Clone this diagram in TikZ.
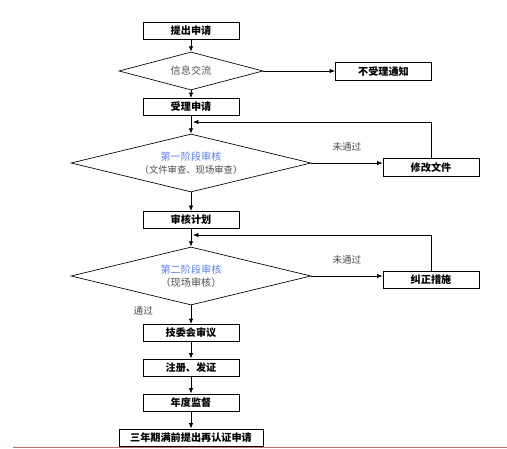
\documentclass[tikz,border=0pt]{standalone}
\usepackage{fontspec}
\newfontfamily\cjk{Noto Sans CJK SC}
\usepackage{tikz}
\usetikzlibrary{arrows.meta,positioning,calc,shapes.geometric}

\begin{document}
\begin{tikzpicture}[x=0.75pt,y=-0.75pt,
  font=\cjk\fontsize{7.6}{9}\selectfont,
  stepbox/.style={draw,line width=0.7pt,minimum width=72pt,minimum height=12.8pt,inner sep=0pt,font=\cjk\bfseries\fontsize{7.6}{9}\selectfont},
  check/.style={draw,line width=0.5pt,shape=diamond,inner sep=0pt,aspect=4.1},
  arr/.style={-{Latex[length=4pt,width=3.2pt]},line width=0.5pt},
  note/.style={text=black!70,font=\cjk\fontsize{7.2}{9}\selectfont}]
\useasboundingbox (0,0) rectangle (507,449);
\node[stepbox] (submit) at (191,31) {提出申请};
\node[check,minimum width=108pt,minimum height=28.5pt,text=black!65] (info) at (191,71) {信息交流};
\node[stepbox] (reject) at (383.5,71.5) {不受理通知};
\node[stepbox] (accept) at (191,107) {受理申请};
\node[check,minimum width=180pt,minimum height=43.5pt,align=center] (stage1) at (191,163)
  {\textcolor[HTML]{5B7FF0}{第一阶段审核}\\[1pt]{\color{black!70}\fontsize{7}{9}\selectfont（文件审查、现场审查）}};
\node[stepbox] (revise) at (431,167.5) {修改文件};
\node[stepbox] (plan) at (191,220) {审核计划};
\node[check,minimum width=180pt,minimum height=43.5pt,align=center] (stage2) at (191,276)
  {\textcolor[HTML]{5B7FF0}{第二阶段审核}\\[1pt]{\color{black!70}（现场审核）}};
\node[stepbox] (correct) at (431,279.5) {纠正措施};
\node[stepbox] (board) at (191,333) {技委会审议};
\node[stepbox] (register) at (191,367.5) {注册、发证};
\node[stepbox] (annual) at (191,402.5) {年度监督};
\node[stepbox,minimum width=108pt] (renew) at (191,437.5) {三年期满前提出再认证申请};
% main flow
\draw[arr] (submit) -- (info);
\draw[arr] (info.east) -- (info.east -| reject.west);
\draw[arr] (info) -- (accept);
\draw[arr] (accept) -- (stage1);
\draw[arr] (stage1.east) -- (stage1.east -| revise.west) node[note,midway,above=5pt] {未通过};
\coordinate (back1) at ($(accept.south)+(2,6)$);
\draw[arr] (revise.north) |- (back1);
\draw[arr] (stage1) -- (plan);
\draw[arr] (plan) -- (stage2);
\draw[arr] (stage2.east) -- (stage2.east -| correct.west) node[note,midway,above=5pt] {未通过};
\coordinate (back2) at ($(plan.south)+(2,6)$);
\draw[arr] (correct.north) |- (back2);
\draw[arr] (stage2) -- (board) node[note,pos=0.3,left=25pt] {通过};
\draw[arr] (board) -- (register);
\draw[arr] (register) -- (annual);
\draw[arr] (annual) -- (renew);
\draw[color={rgb,255:red,192;green,112;blue,112},line width=0.7pt] (13,447.5) -- (507,447.5);
\end{tikzpicture}
\end{document}
